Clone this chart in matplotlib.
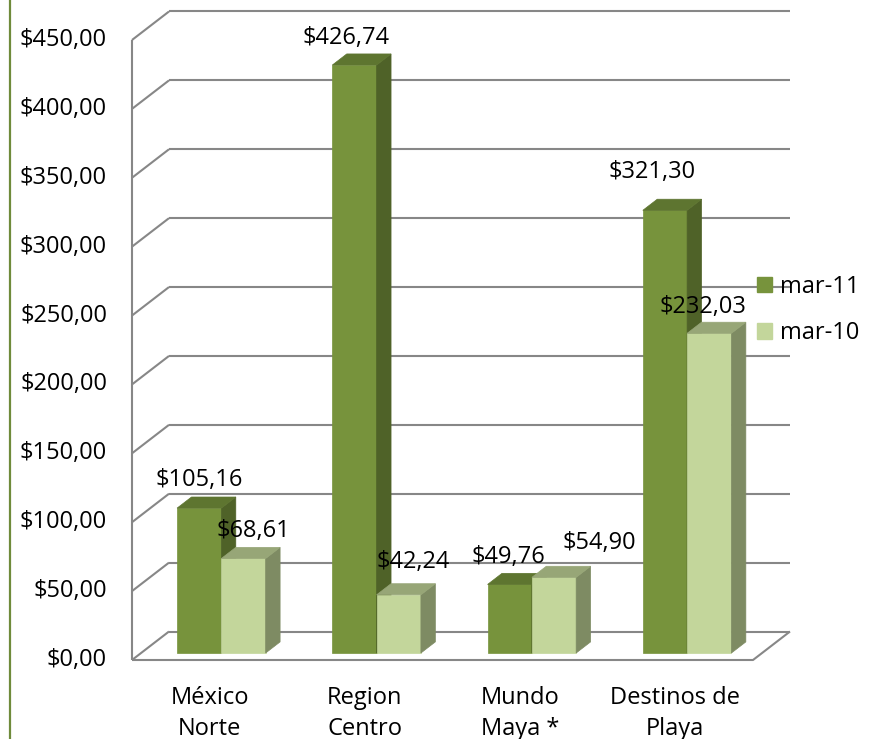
import matplotlib.pyplot as plt
from matplotlib.patches import Patch

plt.rcParams['font.family'] = ['Open Sans', 'DejaVu Sans']

# datos
regiones = ['México\nNorte', 'Region\nCentro', 'Mundo\nMaya *', 'Destinos de\nPlaya']
mar11 = [105.16, 426.74, 49.76, 321.30]
mar10 = [68.61, 42.24, 54.90, 232.03]
series = ['mar-11', 'mar-10']
ticks = list(range(0, 451, 50))

# estilo (front, lado, tapa)
colores = [('#77933C', '#4F6228', '#5E7530'),
           ('#C3D69B', '#7E8B63', '#97A677')]
# ajuste de etiquetas (px) respecto al centro frontal de la tapa
nudge = [[(0, 28), (-8, 27), (-1, 27), (-13, 38)],
         [(10, 27), (14, 33), (45, 34), (-6, 26)]]
FS = 17

fig = plt.figure(figsize=(8.75, 7.39), dpi=100)
ax = fig.add_axes([0, 0, 1, 1])
PX_X = 155.25   # px por categoria
PX_Y = 1.3778   # px por unidad
ax.set_xlim(-132 / PX_X, (875 - 132) / PX_X)
ax.set_ylim(-(739 - 660) / PX_Y, 660 / PX_Y)
ax.axis('off')

DX = 37 / PX_X     # profundidad en x
DY = 28.5 / PX_Y   # profundidad en y
n = len(regiones)
grid = dict(color='#878787', lw=1.5, solid_capstyle='butt', zorder=1)

# paredes y piso
for v in ticks:
    ax.plot([0, DX], [v, v + DY], **grid)
    ax.plot([DX, n + DX], [v + DY, v + DY], **grid)
    ax.text(-25 / PX_X, v, '$%s,00' % v, ha='right', va='center', fontsize=FS)
ax.plot([0, 0], [0, ticks[-1]], **grid)
ax.plot([0, n, n + DX], [0, 0, DY], **grid)

# barras 3D
bw = 44.3 / PX_X
left = 36 / PX_X
f0, fd = 0.245, 0.39
for i in range(n):
    for s, vals in enumerate([mar11, mar10]):
        v = vals[i]
        x0 = i + left + s * bw + f0 * DX
        y0 = f0 * DY
        ex, ey = fd * DX, fd * DY
        front, side, top = colores[s]
        kw = dict(lw=0.5, zorder=3)
        ax.fill([x0, x0 + bw, x0 + bw, x0], [y0, y0, y0 + v, y0 + v],
                color=front, **kw)
        ax.fill([x0 + bw, x0 + bw + ex, x0 + bw + ex, x0 + bw],
                [y0, y0 + ey, y0 + v + ey, y0 + v], color=side, **kw)
        ax.fill([x0, x0 + bw, x0 + bw + ex, x0 + ex],
                [y0 + v, y0 + v, y0 + v + ey, y0 + v + ey], color=top, **kw)
        ax.annotate('$' + ('%.2f' % v).replace('.', ','),
                    (x0 + bw / 2, y0 + v), xytext=nudge[s][i],
                    textcoords='offset pixels', ha='center', va='center',
                    fontsize=FS, zorder=5)

for i, r in enumerate(regiones):
    ax.text(i + 0.5, -26 / PX_Y, r, ha='center', va='top', fontsize=FS,
            linespacing=1.4)

# borde verde izquierdo
ax.plot([-122 / PX_X] * 2, [-60, 480], color='#6F8B3B', lw=1.6)

handles = [Patch(color=colores[k][0]) for k in range(2)]
ax.legend(handles, series, loc='upper left', bbox_to_anchor=(757 / 875, 1 - 275 / 739),
          frameon=False, fontsize=FS, handlelength=0.62, handleheight=0.62,
          handletextpad=0.35, labelspacing=0.95, borderaxespad=0, borderpad=0)

fig.savefig('out.png', dpi=100)
